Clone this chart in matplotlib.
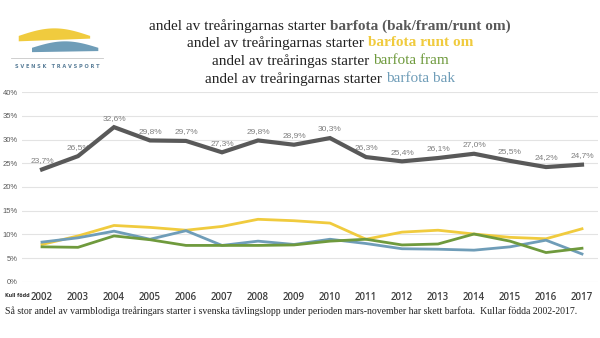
import numpy as np
import matplotlib.pyplot as plt

years = [str(y) for y in range(2002, 2018)]
total = [23.7, 26.5, 32.6, 29.8, 29.7, 27.3, 29.8, 28.9, 30.3, 26.3, 25.4, 26.1, 27.0, 25.5, 24.2, 24.7]
runt_om = [7.9, 9.7, 11.9, 11.5, 10.9, 11.7, 13.2, 12.9, 12.4, 9.0, 10.5, 10.9, 10.1, 9.4, 9.1, 11.2]
fram = [7.4, 7.3, 9.7, 8.9, 7.7, 7.7, 7.7, 7.8, 8.6, 9.0, 7.8, 8.0, 10.1, 8.6, 6.2, 7.1]
bak = [8.4, 9.3, 10.7, 9.0, 10.8, 7.7, 8.6, 7.9, 9.0, 8.1, 7.0, 6.9, 6.7, 7.4, 8.8, 5.9]
yticks = [0, 5, 10, 15, 20, 25, 30, 35, 40]

c_total = '#595959'
c_runt = '#f0cb3e'
c_fram = '#6f9a3d'
c_bak = '#6f9db8'

fig = plt.figure(figsize=(6, 3.38), dpi=100)
ax = fig.add_axes([0.037, 0.1657, 0.96, 0.5621])

x = np.arange(len(years))
ax.plot(x, runt_om, color=c_runt, lw=2.0, zorder=3)
ax.plot(x, bak, color=c_bak, lw=2.0, zorder=4)
ax.plot(x, fram, color=c_fram, lw=2.0, zorder=5)
ax.plot(x, total, color=c_total, lw=3.0, zorder=6, solid_joinstyle='miter')
for xi, v in zip(x, total):
    ax.annotate(('%.1f%%' % v).replace('.', ','), (xi, v), xytext=(0, 4),
                textcoords='offset points', ha='center', va='bottom',
                fontsize=6, color='#7f7f7f', family='Liberation Sans')

ax.set_xlim(-0.55, 15.45)
ax.set_ylim(0, 40)
ax.set_yticks(yticks)
ax.set_yticklabels(['%d%%' % t for t in yticks], fontsize=5.5, color='#595959',
                   family='Liberation Sans')
ax.set_xticks(x)
ax.set_xticklabels(years, fontsize=7, color='#404040', family='Open Sans',
                   fontweight='semibold')
ax.tick_params(length=0)
ax.tick_params(axis='x', pad=7)
ax.tick_params(axis='y', pad=3)
ax.grid(axis='y', color='#e3e3e3', lw=0.8)
for s in ax.spines.values():
    s.set_visible(False)
ax.set_axisbelow(True)

fig.text(0.008, 0.125, 'Kull född', fontsize=3.5, fontweight='bold',
         color='#333333', va='center')
fig.text(0.008, 0.08, 'Så stor andel av varmblodiga treåringars starter i svenska '
         'tävlingslopp under perioden mars-november har skett barfota.  '
         'Kullar födda 2002-2017.', fontsize=7.0, family='Liberation Serif',
         color='#222222', va='center')

# title lines, two colours each
titles = [
    ('andel av treåringarnas starter ', 'barfota (bak/fram/runt om)', c_total, 'bold'),
    ('andel av treåringarnas starter ', 'barfota runt om', c_runt, 'bold'),
    ('andel av treåringas starter ', 'barfota fram', c_fram, 'normal'),
    ('andel av treåringarnas starter ', 'barfota bak', c_bak, 'normal'),
]
ys = [26, 43, 61, 79]
fig.canvas.draw()
r = fig.canvas.get_renderer()
for (pre, suf, col, fw), yp in zip(titles, ys):
    yf = 1 - yp / 338
    t1 = fig.text(0, yf, pre, fontsize=11, family='Liberation Serif',
                  color='#222222', va='center')
    t2 = fig.text(0, yf, suf, fontsize=11, family='Liberation Serif',
                  color=col, fontweight=fw, va='center')
    w1 = t1.get_window_extent(r).width
    w2 = t2.get_window_extent(r).width
    x0 = 330 - (w1 + w2) / 2
    t1.set_x(x0 / 600)
    t2.set_x((x0 + w1) / 600)

# simple logo
lax = fig.add_axes([0.01, 0.78, 0.17, 0.16])
lax.set_xlim(0, 1)
lax.set_ylim(0, 1)
lax.axis('off')
tt = np.linspace(0, 1, 30)
lax.fill_between(0.12 + 0.7 * tt, 0.72 + 0.14 * np.sin(np.pi * tt), 0.62 + 0.05 * tt,
                 color='#f0cb3e', lw=0)
lax.fill_between(0.25 + 0.65 * tt, 0.5 + 0.12 * np.sin(np.pi * tt), 0.42 + 0.02 * tt,
                 color='#6f9db8', lw=0)
lax.plot([0.05, 0.95], [0.3, 0.3], color='#c8c8c8', lw=0.6)
lax.text(0.5, 0.15, 'S V E N S K   T R A V S P O R T', ha='center', va='center',
         fontsize=3.6, color='#5b7f99', fontweight='bold')

fig.savefig('out.png', dpi=100)
